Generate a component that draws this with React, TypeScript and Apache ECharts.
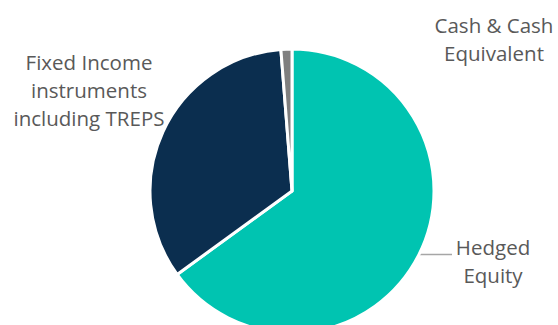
import React, { useEffect, useRef } from "react";
import * as echarts from "echarts";

const categories = ["Hedged Equity", "Fixed Income instruments including TREPS", "Cash & Cash Equivalent"];
const labelTexts = ["Hedged\nEquity", "Fixed Income\ninstruments\nincluding TREPS", "Cash & Cash\nEquivalent"];
const values = [65.0, 33.75, 1.25];
const colors = ["#00C4B1", "#0B2E4F", "#7F7F7F"];
const labelPositions: [number, number][] = [
  [493, 261],
  [89, 90],
  [494, 39],
];
const showLines = [true, false, false];
const lineEndX = 452;

export default function App() {
  const ref = useRef<HTMLDivElement>(null);
  useEffect(() => {
    if (!ref.current) return;
    const chart = echarts.init(ref.current, null, { renderer: "svg" });
    chart.setOption({
      animation: false,
      backgroundColor: "#ffffff",
      series: [
        {
          type: "pie",
          center: [292, 191],
          radius: [0, 142],
          startAngle: 90,
          clockwise: true,
          avoidLabelOverlap: false,
          itemStyle: { borderColor: "#ffffff", borderWidth: 3 },
          label: {
            show: true,
            position: "outside",
            color: "#595959",
            fontFamily: "'Open Sans', sans-serif",
            fontSize: 20.5,
            lineHeight: 28,
            align: "center",
            formatter: (p: any) => labelTexts[p.dataIndex],
          },
          labelLine: {
            show: true,
            length: 5,
            length2: 20,
            smooth: false,
            lineStyle: { color: "#A6A6A6", width: 1.5 },
          },
          labelLayout: (p: any) => {
            const res: any = {
              x: labelPositions[p.dataIndex][0],
              y: labelPositions[p.dataIndex][1],
              align: "center",
              verticalAlign: "middle",
              hideOverlap: false,
            };
            if (showLines[p.dataIndex] && p.labelLinePoints) {
              const p0 = p.labelLinePoints[0];
              const y = p0[1] - 1;
              res.labelLinePoints = [
                [p0[0], y],
                [(p0[0] + lineEndX) / 2, y],
                [lineEndX, y],
              ];
            }
            return res;
          },
          data: categories.map((name, i) => ({
            name,
            value: values[i],
            itemStyle: { color: colors[i] },
            labelLine: { show: showLines[i] },
          })),
        },
      ],
    });
    return () => chart.dispose();
  }, []);
  return (
    <div
      ref={ref}
      style={{ position: "fixed", left: 0, top: 0, width: 558, height: 325 }}
    />
  );
}
